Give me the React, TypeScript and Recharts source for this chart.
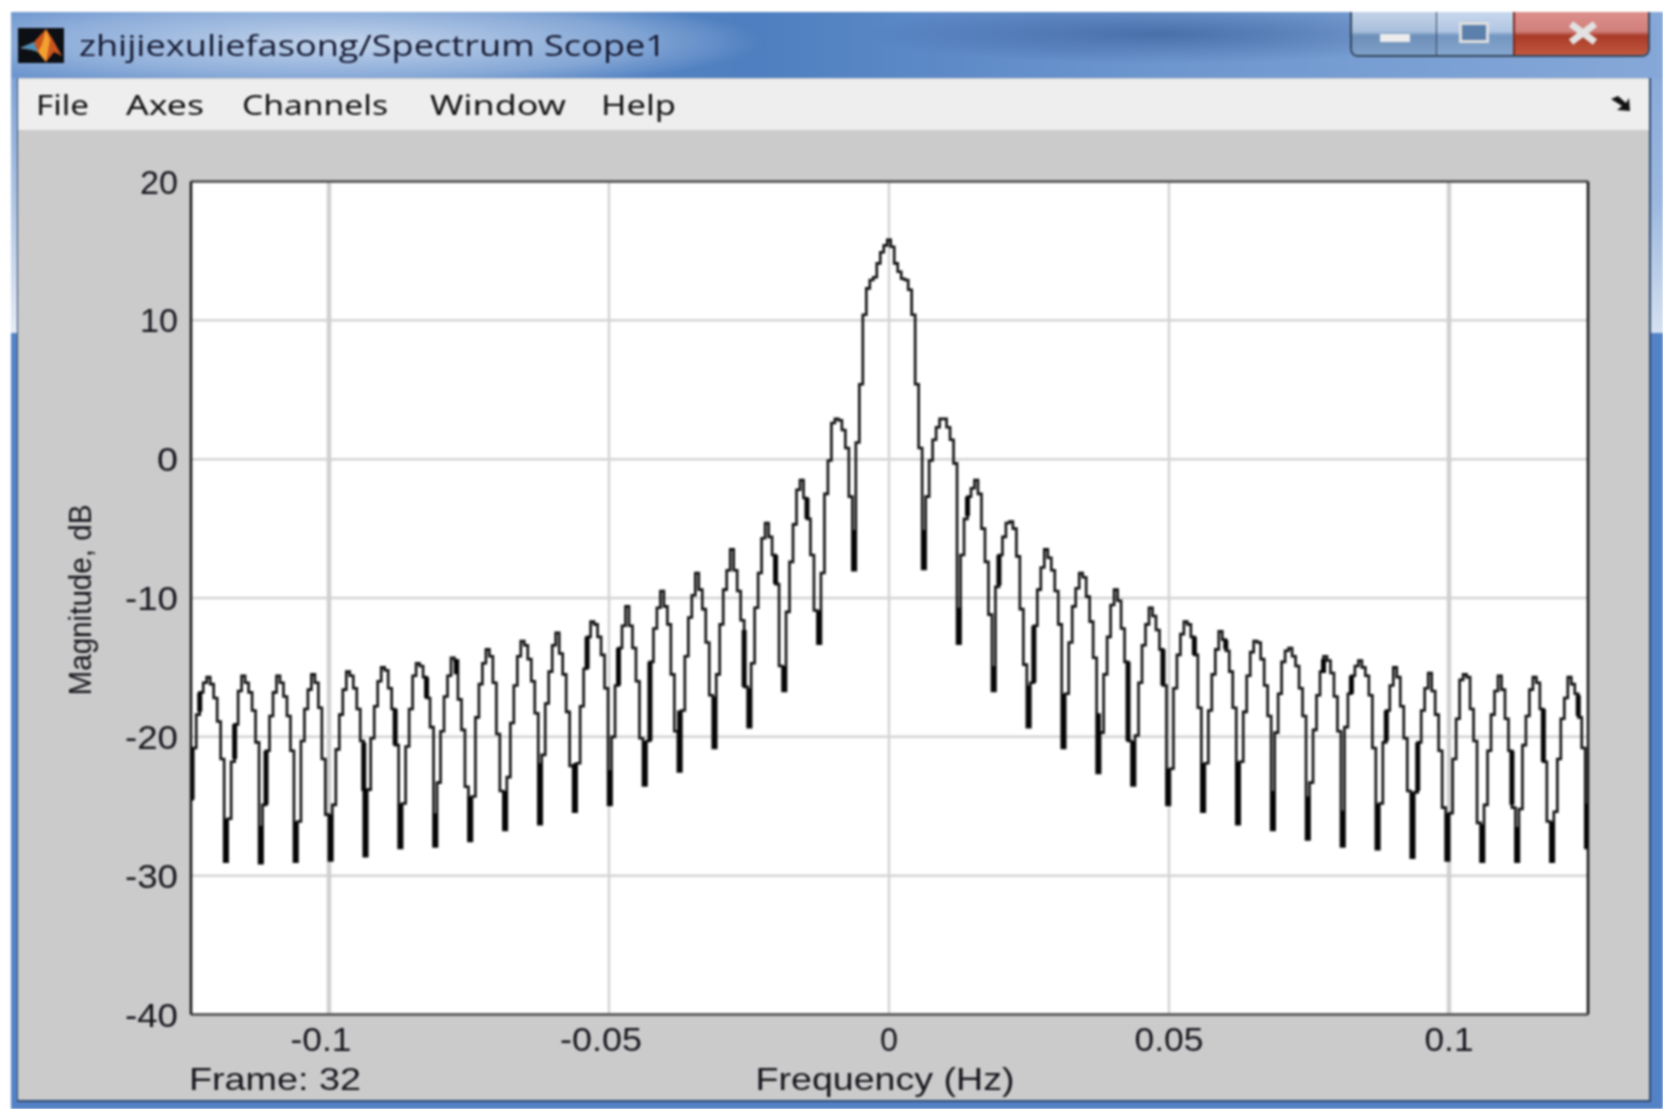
import React from "react";
import { LineChart, Line, XAxis, YAxis, CartesianGrid, ReferenceLine } from "recharts";

// Spectrum magnitude (dB), one row per side lobe
const magnitudesLeft = [
  -24.5, -20.8, -18.4, -16.8, -16.1, -15.7, -16.2, -17.2, -18.9, -21.6,
  -29.0, -25.9, -21.8, -19.1, -16.7, -15.6, -16.1, -16.8, -18.1, -20.4,
  -29.1, -24.9, -21.0, -18.5, -16.8, -15.6, -16.1, -17.1, -18.5, -21.0,
  -29.0, -26.1, -20.3, -18.0, -16.6, -15.5, -16.1, -17.9, -21.6, -25.6,
  -28.9, -24.9, -20.9, -18.4, -16.6, -15.3, -15.6, -16.5, -18.0, -20.3,
  -28.6, -23.8, -20.1, -17.8, -16.0, -15.0, -15.2, -16.5, -18.0, -20.6,
  -28.0, -24.8, -20.7, -18.0, -15.6, -14.7, -14.9, -15.7, -17.2, -19.3,
  -27.9, -23.3, -19.6, -17.1, -15.6, -14.3, -14.5, -17.3, -19.5, -23.6,
  -27.5, -24.3, -18.6, -16.2, -14.7, -13.7, -14.2, -16.1, -19.8, -23.9,
  -26.7, -22.9, -19.0, -16.3, -14.2, -13.1, -13.4, -14.4, -16.0, -18.3,
  -26.3, -21.3, -17.6, -15.3, -13.4, -12.5, -14.0, -15.5, -18.2, -22.1,
  -25.4, -21.9, -17.8, -15.1, -12.8, -11.7, -11.9, -12.8, -14.1, -16.5,
  -24.9, -20.0, -16.3, -13.6, -12.0, -10.6, -12.0, -13.6, -16.0, -20.1,
  -23.5, -20.3, -14.6, -12.2, -10.7, -9.5, -10.6, -11.9, -15.5, -19.6,
  -22.5, -18.1, -14.2, -11.4, -9.8, -8.2, -9.4, -10.8, -13.2, -17.0,
  -20.8, -15.5, -11.9, -9.4, -8.0, -6.5, -8.0, -9.5, -11.6, -16.4,
  -19.3, -14.7, -10.7, -8.2, -5.7, -4.6, -5.6, -6.9, -9.0, -14.9,
  -16.7, -11.0, -7.4, -4.7, -2.2, -1.5, -2.8, -4.3, -6.9, -10.9,
  -13.3, -8.2, -2.5, -0.1, 2.6, 2.9, 2.8, 2.1, 0.8, -2.7,
];

const magnitudesMain = [
  -8.0, 1.2, 5.4, 10.4, 12.3, 12.9, 13.1, 14.1, 14.9, 15.4,
  15.8, 15.3, 14.1, 13.5, 13.0, 12.9, 12.2, 10.4, 5.4, 0.8,
];

const magnitudesRight = [
  -7.9, -2.7, -0.1, 1.4, 2.3, 2.9, 2.9, 2.3, 1.4, -0.3,
  -13.3, -6.9, -4.3, -2.7, -2.1, -1.5, -2.5, -5.0, -7.4, -11.2,
  -16.7, -9.2, -6.9, -5.6, -4.6, -4.5, -5.0, -7.0, -10.8, -14.8,
  -19.3, -16.1, -12.0, -9.4, -7.8, -6.5, -7.1, -8.0, -9.5, -11.9,
  -20.8, -16.9, -13.2, -10.6, -9.3, -8.2, -8.5, -9.9, -11.7, -14.3,
  -22.6, -19.7, -15.5, -12.8, -10.5, -9.4, -10.2, -12.2, -14.6, -20.3,
  -23.5, -19.9, -16.1, -13.4, -11.9, -10.7, -11.3, -12.3, -13.7, -16.3,
  -24.9, -22.3, -16.5, -14.1, -12.6, -11.7, -11.9, -12.8, -14.1, -17.9,
  -25.4, -21.9, -18.1, -15.5, -13.7, -12.4, -13.0, -13.8, -15.3, -17.9,
  -26.3, -21.8, -18.2, -15.6, -13.9, -13.1, -13.2, -14.4, -16.3, -18.5,
  -26.7, -19.7, -16.9, -14.6, -13.8, -13.6, -14.2, -14.9, -16.5, -18.5,
  -27.4, -23.3, -19.5, -17.0, -15.3, -14.2, -14.5, -15.4, -17.1, -19.6,
  -27.9, -19.3, -16.9, -15.6, -14.9, -14.5, -15.0, -15.6, -17.0, -20.8,
  -28.1, -24.8, -20.4, -18.1, -16.3, -15.0, -15.7, -17.8, -20.1, -23.9,
  -28.7, -24.0, -20.4, -18.1, -16.5, -15.4, -16.7, -18.4, -21.0, -25.1,
  -28.9, -25.5, -21.6, -18.7, -15.9, -15.5, -15.7, -18.0, -20.3, -26.2,
  -29.0, -24.9, -21.0, -18.4, -16.7, -15.6, -16.6, -18.7, -21.0, -25.1,
  -29.0, -25.2, -20.6, -18.5, -16.6, -15.7, -16.1, -18.0, -21.8, -26.1,
  -29.0, -25.4, -21.6, -18.7, -17.2, -15.7, -16.2, -16.9, -18.6, -20.8,
  -28.0,
];

// The heavy dark stretches of the trace: sample position, upper and lower level (dB)
const heavyBins = [
  0.3, 2.5, 10, 12.5, 20, 21.5, 30, 40, 49.5, 50, 58.5, 60, 67.5, 70, 76, 80, 90, 100, 110, 113.5,
  120, 122.5, 130, 131.5, 140, 150, 158.5, 160, 167.5, 170, 176.5, 180, 190, 210, 220, 222.5, 230, 231.5,
  240, 241.5, 250, 260, 268.5, 270, 278.5, 280, 287.5, 290, 296.5, 300, 310, 320, 324.5, 330,
  332.5, 340, 342.5, 350, 351.5, 360, 370, 378.5, 380, 387.5, 390, 397.5, 400,
];
const heavyTop = [
  -20.8, -16.8, -25.9, -19.1, -26.4, -21.0, -26.1, -25.6, -20.4, -23.8, -18.0, -24.8, -15.7, -25.5, -14.4, -24.3, -23.9, -21.9, -21.9, -12.8,
  -22.4, -13.6, -20.3, -14.6, -18.1, -17.1, -12.3, -16.5, -6.9, -14.9, -2.8, -10.9, -5.1, -5.1, -10.7, -2.7, -14.9, -6.9,
  -16.3, -12.0, -16.9, -18.3, -14.6, -20.3, -13.7, -22.3, -12.8, -21.9, -13.0, -21.8, -23.9, -24.3, -14.4, -25.3,
  -15.6, -24.8, -18.1, -24.0, -20.4, -25.5, -26.3, -21.0, -26.5, -18.0, -26.1, -17.0, -24.8,
];
const heavyBottom = [
  -24.5, -18.2, -29.0, -21.6, -29.1, -24.9, -29.0, -28.9, -23.9, -28.6, -20.6, -28.0, -17.2, -27.9, -15.5, -27.5, -26.7, -26.3, -25.4, -15.1,
  -24.9, -16.3, -23.5, -20.3, -22.5, -20.8, -16.4, -19.3, -9.0, -16.7, -4.3, -13.3, -8.0, -7.9, -13.3, -4.1, -16.7, -9.1,
  -19.3, -16.1, -20.8, -22.6, -20.3, -23.5, -16.3, -24.9, -14.1, -25.4, -13.7, -26.3, -26.7, -27.4, -15.4, -27.9,
  -16.9, -28.1, -20.3, -28.7, -23.9, -28.9, -29.0, -24.9, -29.0, -21.8, -29.0, -18.5, -28.0,
];

const xTicks = [-0.1, -0.05, 0, 0.05, 0.1];
const yTicks = [-40, -30, -20, -10, 0, 10, 20];
const xTickLabels = ["-0.1", "-0.05", "0", "0.05", "0.1"];
const xTickWidths = [61, 82, 18, 69, 49];
const yTickLabels = ["-40", "-30", "-20", "-10", "0", "10", "20"];
const yTickWidths = [53, 53, 53, 53, 21, 38, 38];
const menuItems = ["File", "Axes", "Channels", "Window", "Help"];
const menuStart = [36, 126, 242, 430, 601];
const menuWidth = [53, 78, 146, 136, 75];

const FIRST_BIN_HZ = -0.12464;
const BIN_HZ = 0.0006232;
const binToHz = (b: number) => FIRST_BIN_HZ + b * BIN_HZ;

const magnitudes = [...magnitudesLeft, ...magnitudesMain, ...magnitudesRight];
const traceData = magnitudes.map((m, i) => ({ f: binToHz(i), m }));
const heavyData = heavyBins.flatMap((b, i) => [
  { f: binToHz(b), h: heavyTop[i] },
  { f: binToHz(b), h: heavyBottom[i] },
  { f: binToHz(b), h: null },
]);

const FONT = "'Liberation Sans', Arial, sans-serif";
const TICK_COLOR = "#15151c";

const XTick = ({ x, y, payload }: any) => {
  const i = xTicks.indexOf(payload.value);
  const neg = payload.value < 0;
  return (
    <text x={x - (neg ? 8 : 0)} y={y + 28} textAnchor="middle" fontFamily={FONT} fontSize={33} fill={TICK_COLOR}
      textLength={xTickWidths[i]} lengthAdjust="spacingAndGlyphs">
      {xTickLabels[i]}
    </text>
  );
};

const YTick = ({ x, y, payload }: any) => {
  const i = yTicks.indexOf(payload.value);
  return (
    <text x={178} y={y + 12} textAnchor="end" fontFamily={FONT} fontSize={33} fill={TICK_COLOR}
      textLength={yTickWidths[i]} lengthAdjust="spacingAndGlyphs">
      {yTickLabels[i]}
    </text>
  );
};

const XTitle = () => (
  <g>
    <text x={885} y={1090} textAnchor="middle" fontFamily={FONT} fontSize={32} fill={TICK_COLOR}
      textLength={259} lengthAdjust="spacingAndGlyphs">Frequency (Hz)</text>
    <text x={189} y={1090} fontFamily={FONT} fontSize={32} fill={TICK_COLOR}
      textLength={172} lengthAdjust="spacingAndGlyphs">Frame: 32</text>
  </g>
);

const YTitle = () => (
  <text transform="translate(91,600) rotate(-90)" textAnchor="middle" fontFamily={FONT} fontSize={31} fill={TICK_COLOR}
    textLength={191} lengthAdjust="spacingAndGlyphs">Magnitude, dB</text>
);

const Chrome = () => (
  <div style={{ position: "absolute", inset: 0, background: "#fff", overflow: "hidden" }}>
    {/* outer frame */}
    <div style={{ position: "absolute", left: 11, top: 12, right: 0, bottom: 0, background: "#5482c6" }} />
    <div style={{ position: "absolute", left: 11, top: 78, width: 6, height: 255, background: "linear-gradient(180deg,#7fa3d6 0%,#c4d4ea 70%,#e4ebf5 100%)" }} />
    <div style={{ position: "absolute", left: 1651, top: 40, width: 12, height: 293, background: "linear-gradient(180deg,#86a7d8 0%,#9cb8df 55%,#d6e1f0 100%)" }} />
    {/* title bar */}
    <div style={{
      position: "absolute", left: 11, top: 12, right: 0, height: 66,
      background:
        "radial-gradient(ellipse 420px 50px at 330px 30px, rgba(200,216,238,0.95), rgba(170,195,228,0.55) 70%, rgba(120,160,210,0) 100%)," +
        "radial-gradient(ellipse 300px 30px at 1150px 22px, rgba(50,85,145,0.6), rgba(60,100,170,0) 100%)," +
        "linear-gradient(90deg,#6f97cf 0%,#4f7fc0 45%,#6e97cf 70%,#86a8d8 100%)",
    }} />
    {/* client area */}
    <div style={{ position: "absolute", left: 17, top: 78, width: 1634, height: 1024, background: "#cbcbcb", borderLeft: "1px solid #2f4a70", borderRight: "2px solid #2f4a70", borderBottom: "2px solid #2f4a70", boxSizing: "border-box" }} />
    <div style={{ position: "absolute", left: 18, top: 79, width: 1631, height: 51, background: "#eeeeee" }} />
    {/* window buttons */}
    <div style={{ position: "absolute", left: 1350, top: 12, width: 300, height: 45, borderRadius: "0 0 8px 8px", overflow: "hidden", border: "2px solid #33475f", borderTop: "none", boxSizing: "border-box", display: "flex" }}>
      <div style={{ width: 84, background: "linear-gradient(180deg,#c2d2e6 0%,#a9c0dc 45%,#6d8fb8 55%,#7fa0c8 100%)", borderRight: "1px solid #33475f", position: "relative" }}>
        <div style={{ position: "absolute", left: 28, top: 22, width: 30, height: 8, background: "#ececec" }} />
      </div>
      <div style={{ width: 76, background: "linear-gradient(180deg,#c8d8ec 0%,#b0c6e2 45%,#7396c0 55%,#85a6ce 100%)", position: "relative" }}>
        <div style={{ position: "absolute", left: 22, top: 10, width: 30, height: 21, border: "3px solid #dedede", boxSizing: "border-box", background: "#5c80ac" }} />
      </div>
      <div style={{ flex: 1, background: "linear-gradient(180deg,#dd8f8b 0%,#d0807c 45%,#a83a28 55%,#c2583f 100%)", borderLeft: "2px solid #7a2a20", position: "relative" }}>
        <svg width="40" height="30" style={{ position: "absolute", left: 50, top: 9 }}>
          <path d="M6 3 L30 21 M30 3 L6 21" stroke="#e2e2e2" strokeWidth="7" />
        </svg>
      </div>
    </div>
    {/* icon, title, menu and corner arrow */}
    <svg width={1663} height={1109} style={{ position: "absolute", left: 0, top: 0 }}>
      <rect x={18} y={28} width={46} height={35} fill="#0c0f14" />
      <polygon points="20,48 34,42 46,29 52,38 62,56 54,52 46,62 38,52 32,50" fill="#c9551f" />
      <polygon points="20,48 34,42 38,52 32,50" fill="#4d90b8" />
      <polygon points="46,29 50,40 46,62 38,52 42,44" fill="#f3a02f" />
      <text x={79} y={56} fontFamily="'Open Sans', sans-serif" fontSize={29} fill="#141830" textLength={587} lengthAdjust="spacingAndGlyphs">
        zhijiexuliefasong/Spectrum Scope1
      </text>
      {menuItems.map((m, i) => (
        <text key={m} x={menuStart[i]} y={115} fontFamily="'Noto Sans', sans-serif" fontSize={27} fill="#111"
          textLength={menuWidth[i]} lengthAdjust="spacingAndGlyphs">{m}</text>
      ))}
      <path d="M1611 99 L1618 96 L1626 103 L1629 98 L1630 111 L1617 110 L1622 106 Z" fill="#111" />
    </svg>
  </div>
);

export default function App() {
  return (
    <div style={{ position: "fixed", left: 0, top: 0, width: 1663, height: 1109, overflow: "hidden", filter: "blur(0.8px)" }}>
      <Chrome />
      <div style={{ position: "absolute", left: 0, top: 0 }}>
        <LineChart width={1663} height={1109} data={traceData} margin={{ top: 181.5, right: 75, bottom: 0, left: 0 }}>
          <CartesianGrid fill="#ffffff" stroke="#d4d4d4" strokeWidth={2.5} syncWithTicks />
          <XAxis
            dataKey="f" type="number" domain={[-0.12464, 0.12482]} ticks={xTicks} height={94.5}
            allowDataOverflow tick={<XTick />} tickLine={false} stroke="#4a4a4a" strokeWidth={2.5}
            label={<XTitle />} interval={0}
          />
          <YAxis
            type="number" domain={[-40, 20]} ticks={yTicks} width={191} allowDataOverflow
            tick={<YTick />} tickLine={false} stroke="#111" strokeWidth={2.5} label={<YTitle />} interval={0}
          />
          <ReferenceLine x={-0.1} stroke="#d0d0d0" strokeWidth={4.5} />
          <ReferenceLine x={0.1} stroke="#d0d0d0" strokeWidth={4.5} />
          <ReferenceLine y={20} stroke="#4a4a4a" strokeWidth={2.5} />
          <ReferenceLine x={0.12482} stroke="#111" strokeWidth={2.5} />
          <Line dataKey="m" type="step" stroke="#0e0e0e" strokeWidth={2.6} dot={false} activeDot={false} isAnimationActive={false} />
          <Line data={heavyData} dataKey="h" type="linear" stroke="#050505" strokeWidth={5} dot={false} activeDot={false} isAnimationActive={false} connectNulls={false} />
        </LineChart>
      </div>
    </div>
  );
}
